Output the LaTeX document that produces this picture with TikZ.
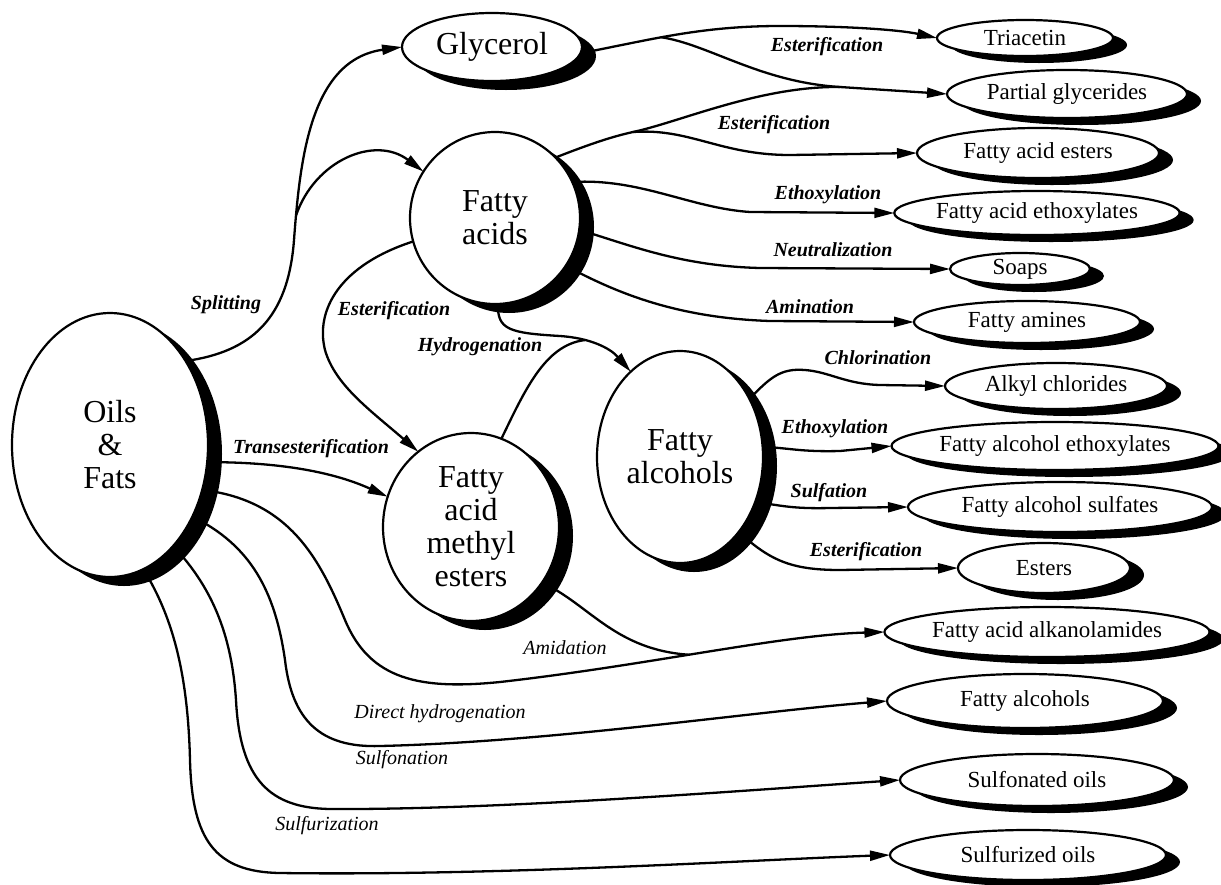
\documentclass[tikz,border=0pt]{standalone}
\usepackage{fontspec}
\setmainfont{Liberation Serif}
\usetikzlibrary{shapes.geometric,shadows,arrows.meta}
\begin{document}
\begin{tikzpicture}[x=0.5pt,y=-0.5pt,
  every node/.style={inner sep=0pt, outer sep=0pt},
  bigbox/.style={ellipse, draw, line width=1.1pt, fill=white, align=center,
    font=\fontsize{16}{16.5}\selectfont,
    drop shadow={shadow xshift=7pt, shadow yshift=-4.5pt, opacity=1, fill=black}},
  smallbox/.style={ellipse, draw, line width=1.1pt, fill=white,
    font=\fontsize{11.5}{13}\selectfont,
    drop shadow={shadow xshift=7pt, shadow yshift=-3.5pt, opacity=1, fill=black}},
  conn/.style={line width=1.15pt},
  arr/.style={conn, -{Triangle[length=10pt,width=5pt]}},
  lab/.style={font=\fontsize{10}{12}\selectfont\bfseries\itshape},
  labr/.style={font=\fontsize{10}{12}\selectfont\itshape},
]
\useasboundingbox (0,0) rectangle (1221,884);

% main nodes
\node[bigbox, minimum width=98pt, minimum height=132pt] (oils) at (110,445) {Oils\\\&\\Fats};
\node[bigbox, minimum width=90pt, minimum height=34pt] (glyc) at (492,47) {Glycerol};
\node[bigbox, minimum width=85pt, minimum height=86pt] (fa) at (495,218) {Fatty\\acids};
\node[bigbox, minimum width=88pt, minimum height=94pt] (fame) at (471,527) {Fatty\\acid\\methyl\\esters};
\node[bigbox, minimum width=83pt, minimum height=106pt] (falc) at (680,457) {Fatty\\alcohols};

% products
\node[smallbox, minimum width=88pt, minimum height=18pt] (tri) at (1025,38) {Triacetin};
\node[smallbox, minimum width=120pt, minimum height=24pt] (pg) at (1067,94) {Partial glycerides};
\node[smallbox, minimum width=121pt, minimum height=25pt] (fae) at (1038,153) {Fatty acid esters};
\node[smallbox, minimum width=120pt, minimum height=22pt] (fact) at (1037,213) {Fatty acid ethoxylates};
\node[smallbox, minimum width=70pt, minimum height=16pt] (soap) at (1020,269) {Soaps};
\node[smallbox, minimum width=113pt, minimum height=21pt] (fam) at (1027,322) {Fatty amines};
\node[smallbox, minimum width=111pt, minimum height=23pt] (alk) at (1056,386) {Alkyl chlorides};
\node[smallbox, minimum width=155pt, minimum height=24pt] (faeo) at (1055,446) {Fatty alcohol ethoxylates};
\node[smallbox, minimum width=152pt, minimum height=25pt] (fas) at (1060,507) {Fatty alcohol sulfates};
\node[smallbox, minimum width=86pt, minimum height=25pt] (est) at (1044,568) {Esters};
\node[smallbox, minimum width=157pt, minimum height=25pt] (faa) at (1047,632) {Fatty acid alkanolamides};
\node[smallbox, minimum width=138pt, minimum height=27pt] (fal) at (1025,701) {Fatty alcohols};
\node[smallbox, minimum width=137pt, minimum height=26pt] (sno) at (1037,780) {Sulfonated oils};
\node[smallbox, minimum width=138pt, minimum height=25pt] (szo) at (1028,855) {Sulfurized oils};

% splitting
\draw[arr] (oils.48) .. controls (250,352) and (288,320) .. (294,240)
  .. controls (300,160) and (310,60) .. coordinate[pos=0.1] (s1) (glyc.west);
\draw[arr] (s1) .. controls (315,160) and (375,135) .. (fa.147);

% glycerol
\draw[arr] (glyc.-4) .. controls (650,40) and (700,26) .. coordinate[pos=0.42] (g1) (780,26)
  .. controls (850,26) and (900,30) .. (tri.west);
\coordinate (m1) at (840,87);
\coordinate (f1) at (633,132);
\draw[conn] (g1) .. controls (710,45) and (760,82) .. (m1);
\draw[conn] (fa.45) .. controls (595,142) and (615,136) .. (f1)
  .. controls (680,122) and (760,86) .. (m1);
\draw[arr] (m1) -- (pg.west);
\draw[arr] (f1) .. controls (690,128) and (720,155) .. (790,155) -- (fae.west);

% fatty acids
\draw[arr] (fa.25) .. controls (640,178) and (690,208) .. (750,212) -- (fact.west);
\draw[arr] (fa.-8) .. controls (630,245) and (680,266) .. (760,268) -- (soap.west);
\draw[arr] (fa.-34) .. controls (620,295) and (680,318) .. (770,321) -- (fam.west);
\draw[arr] (fa.196) .. controls (340,265) and (315,310) .. (325,350)
  .. controls (335,385) and (370,410) .. (fame.125);
\draw[arr] (fa.-88) .. controls (497,330) and (510,333) .. (560,336)
  .. controls (590,338) and (610,348) .. coordinate[pos=0.3] (h1) (falc.120);
\draw[conn] (fame.71) .. controls (525,390) and (545,345) .. (h1);

% transesterification
\draw[arr] (oils.-10) .. controls (290,462) and (340,475) .. (fame.160);

% fatty alcohols
\draw[arr] (falc.40) .. controls (770,378) and (780,368) .. (805,370)
  .. controls (830,372) and (845,384) .. (880,385) -- (alk.west);
\draw[arr] (falc.7) .. controls (790,448) and (800,452) .. (840,451) -- (faeo.west);
\draw[arr] (falc.-31) .. controls (780,505) and (790,509) .. (830,508) -- (fas.west);
\draw[arr] (falc.-52) .. controls (770,560) and (790,570) .. (840,570) -- (est.west);

% oils lower
\draw[arr] (oils.-26) .. controls (290,500) and (320,560) .. (345,620)
  .. controls (370,680) and (420,690) .. (500,682)
  .. controls (650,665) and (780,635) .. coordinate[pos=0.45] (a1) (faa.west);
\draw[conn] (fame.-38) .. controls (590,605) and (615,650) .. (a1);
\draw[arr] (oils.-41) .. controls (250,545) and (275,590) .. (285,660)
  .. controls (292,720) and (320,748) .. (380,746)
  .. controls (550,742) and (750,712) .. (fal.west);
\draw[arr] (oils.-58) .. controls (215,590) and (232,640) .. (236,700)
  .. controls (240,780) and (270,808) .. (330,809)
  .. controls (500,810) and (750,790) .. (sno.west);
\draw[arr] (oils.-75) .. controls (175,620) and (188,680) .. (190,760)
  .. controls (192,840) and (215,872) .. (280,873)
  .. controls (500,876) and (750,860) .. (szo.west);

% labels
\node[lab] (lsplit) at (226,305) {Splitting};
\node[lab] (lest1) at (827,47) {Esterification};
\node[lab] (lest2) at (774,125) {Esterification};
\node[lab] (leth1) at (828,195) {Ethoxylation};
\node[lab] (lneu) at (833,250) {Neutralization};
\node[lab] (lami) at (810,307) {Amination};
\node[lab] (lest3) at (394,311) {Esterification};
\node[lab] (lhyd) at (480,347) {Hydrogenation};
\node[lab] (ltrans) at (311,449) {Transesterification};
\node[lab] (lchl) at (878,358) {Chlorination};
\node[lab] (leth2) at (835,429) {Ethoxylation};
\node[lab] (lsulf) at (829,493) {Sulfation};
\node[lab] (lest4) at (866,552) {Esterification};
\node[labr] (lamid) at (565,648) {Amidation};
\node[labr] (ldh) at (440,714) {Direct hydrogenation};
\node[labr] (lsfn) at (402,760) {Sulfonation};
\node[labr] (lsfz) at (327,826) {Sulfurization};
\end{tikzpicture}
\end{document}
